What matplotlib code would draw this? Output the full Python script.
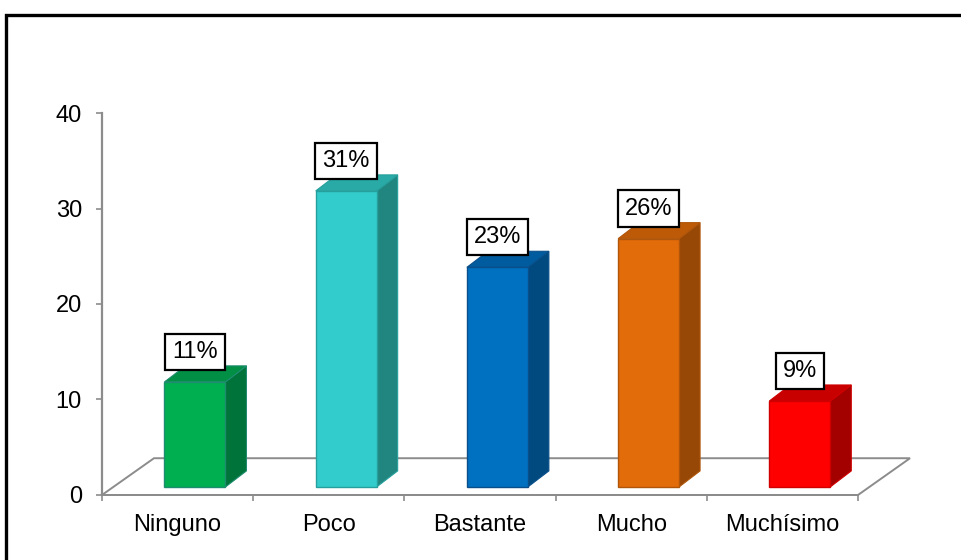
import matplotlib.pyplot as plt
from matplotlib.patches import Polygon, Rectangle

plt.rcParams['font.family'] = ['Liberation Sans', 'DejaVu Sans']

# data
categories = ['Ninguno', 'Poco', 'Bastante', 'Mucho', 'Muchísimo']
values = [11, 31, 23, 26, 9]
pct_labels = ['11%', '31%', '23%', '26%', '9%']

front_cols = ['#00B050', '#33CCCC', '#0070C0', '#E36C0A', '#FF0000']
side_cols = ['#00733A', '#218580', '#004A80', '#974806', '#A30000']
top_cols = ['#008F44', '#2AAAA6', '#005C9E', '#BD5A08', '#C80000']
edge_cols = ['#1E8C6E', '#25A09C', '#0A4F8A', '#B0560A', '#D00000']

axis_gray = '#8C8C8C'
fs = 17

fig = plt.figure(figsize=(9.62, 5.60), dpi=100)
ax = fig.add_axes([0.1060, 0.1161, 0.7859, 0.6821])

ax.set_xlim(-0.5, 4.5)
ax.set_ylim(0, 40)

# 3d look (in data units)
floor_dx, floor_dy = 0.344, 3.85   # depth of the floor
bar_dx0, bar_dy0 = 0.115, 0.84     # offset of bar front from the floor front
bar_ddx, bar_ddy = 0.139, 1.68     # bar depth
bar_w = 0.403

# floor
fl = [(-0.5, 0), (4.5, 0), (4.5 + floor_dx, floor_dy), (-0.5 + floor_dx, floor_dy), (-0.5, 0)]
ax.plot([p[0] for p in fl], [p[1] for p in fl], color=axis_gray, lw=1.4,
        clip_on=False, zorder=1, solid_joinstyle='miter')

for i, v in enumerate(values):
    xl = i + bar_dx0 - bar_w / 2
    xr = xl + bar_w
    y0 = bar_dy0
    y1 = bar_dy0 + v
    side = Polygon([(xr, y0), (xr + bar_ddx, y0 + bar_ddy), (xr + bar_ddx, y1 + bar_ddy), (xr, y1)],
                   closed=True, fc=side_cols[i], ec=edge_cols[i], lw=0.8, zorder=3)
    top = Polygon([(xl, y1), (xl + bar_ddx, y1 + bar_ddy), (xr + bar_ddx, y1 + bar_ddy), (xr, y1)],
                  closed=True, fc=top_cols[i], ec=edge_cols[i], lw=0.8, zorder=3)
    front = Rectangle((xl, y0), bar_w, v, fc=front_cols[i], ec=edge_cols[i], lw=1.0, zorder=4)
    ax.add_patch(side)
    ax.add_patch(top)
    ax.add_patch(front)
    ax.text(i + bar_dx0, v + 4.0, pct_labels[i], ha='center', va='center', fontsize=fs,
            zorder=6, bbox=dict(boxstyle='square,pad=0.3', fc='white', ec='black', lw=1.6))

# axes styling
for s in ['top', 'right']:
    ax.spines[s].set_visible(False)
ax.spines['left'].set_color(axis_gray)
ax.spines['left'].set_linewidth(1.6)
ax.spines['bottom'].set_color(axis_gray)
ax.spines['bottom'].set_linewidth(1.4)

ax.set_yticks([0, 10, 20, 30, 40])
ax.tick_params(axis='y', length=4.5, width=1.2, color=axis_gray, pad=10, labelsize=fs)

ax.set_xticks(range(len(categories)))
ax.set_xticklabels(categories)
ax.set_xticks([i - 0.5 for i in range(len(categories) + 1)], minor=True)
ax.tick_params(axis='x', which='major', length=0, pad=14, labelsize=fs)
ax.tick_params(axis='x', which='minor', length=4, width=1.2, color=axis_gray)

# outer frame
fig.patches.append(Rectangle((6 / 962, -0.1), 1.1, 0.974 + 0.1, transform=fig.transFigure,
                             fill=False, ec='black', lw=2.4, zorder=10))

fig.savefig('out.png', dpi=100)
